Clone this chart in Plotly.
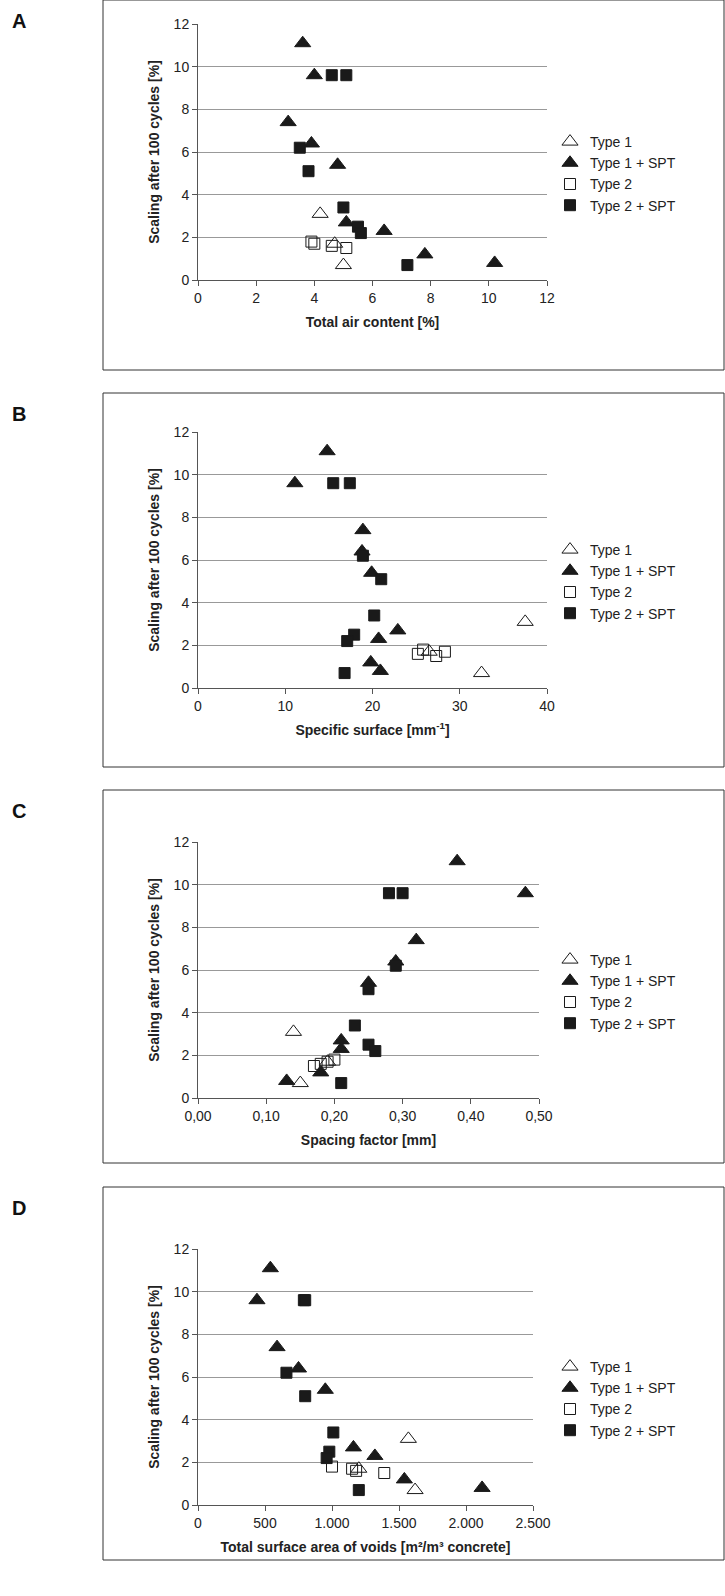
import plotly.graph_objects as go

W, H = 725, 1596

# y values (scaling after 100 cycles, %)
t1_y = [3.1, 1.7, 0.7]
t1s_y = [11.1, 9.6, 7.4, 6.4, 5.4, 2.7, 2.3, 1.2, 0.8]
t2_y = [1.8, 1.7, 1.6, 1.5]
t2s_y = [9.6, 9.6, 6.2, 5.1, 3.4, 2.5, 2.2, 0.7]

# A: total air content [%]
a_t1 = [4.2, 4.7, 5.0]
a_t1s = [3.6, 4.0, 3.1, 3.9, 4.8, 5.1, 6.4, 7.8, 10.2]
a_t2 = [3.9, 4.0, 4.6, 5.1]
a_t2s = [4.6, 5.1, 3.5, 3.8, 5.0, 5.5, 5.6, 7.2]
# B: specific surface [mm-1]
b_t1 = [37.5, 26.5, 32.5]
b_t1s = [14.8, 11.1, 18.9, 18.8, 19.9, 22.9, 20.7, 19.8, 20.9]
b_t2 = [25.8, 28.3, 25.2, 27.3]
b_t2s = [15.5, 17.4, 18.9, 21.0, 20.2, 17.9, 17.1, 16.8]
# C: spacing factor [mm]
c_t1 = [0.14, 0.19, 0.15]
c_t1s = [0.38, 0.48, 0.32, 0.29, 0.25, 0.21, 0.21, 0.18, 0.13]
c_t2 = [0.20, 0.19, 0.18, 0.17]
c_t2s = [0.28, 0.30, 0.29, 0.25, 0.23, 0.25, 0.26, 0.21]
# D: total surface area of voids [m2/m3 concrete]
d_t1 = [1570, 1200, 1620]
d_t1s = [540, 440, 590, 750, 950, 1160, 1320, 1540, 2120]
d_t2 = [1000, 1150, 1180, 1390]
d_t2s = [790, 800, 660, 800, 1010, 980, 960, 1200]

panels = [
    dict(letter="A", top=0, bot=370, ytop=24, ybot=280, xr=[0, 12], xv=list(range(0, 13, 2)),
         xt=[str(v) for v in range(0, 13, 2)], title="Total air content [%]",
         xs=[a_t1, a_t1s, a_t2, a_t2s], right=547),
    dict(letter="B", top=393, bot=767, ytop=432, ybot=688, xr=[0, 40], xv=[0, 10, 20, 30, 40],
         xt=["0", "10", "20", "30", "40"], title="Specific surface [mm<sup>-1</sup>]",
         xs=[b_t1, b_t1s, b_t2, b_t2s], right=547),
    dict(letter="C", top=790, bot=1163, ytop=842, ybot=1098, xr=[0, 0.5], xv=[0, 0.1, 0.2, 0.3, 0.4, 0.5],
         xt=["0,00", "0,10", "0,20", "0,30", "0,40", "0,50"], title="Spacing factor [mm]",
         xs=[c_t1, c_t1s, c_t2, c_t2s], right=539),
    dict(letter="D", top=1187, bot=1560, ytop=1249, ybot=1505, xr=[0, 2500], xv=[0, 500, 1000, 1500, 2000, 2500],
         xt=["0", "500", "1.000", "1.500", "2.000", "2.500"],
         title="Total surface area of voids [m²/m³ concrete]",
         xs=[d_t1, d_t1s, d_t2, d_t2s], right=533),
]

names = ["Type 1", "Type 1 + SPT", "Type 2", "Type 2 + SPT"]
symbols = ["triangle-up-open", "triangle-up", "square-open", "square"]
ys = [t1_y, t1s_y, t2_y, t2s_y]

fig = go.Figure()
font = dict(family="Liberation Sans, Arial", size=14, color="#222")
layout = dict(width=W, height=H, margin=dict(l=0, r=0, t=0, b=0, autoexpand=False),
              plot_bgcolor="white", paper_bgcolor="white", font=font,
              shapes=[], annotations=[])

def py(p):
    return 1 - p / H

for i, p in enumerate(panels):
    n = "" if i == 0 else str(i + 1)
    leg = "legend" + n
    for k in range(4):
        size = 14 if k < 2 else 11
        fig.add_trace(go.Scatter(
            x=p["xs"][k], y=ys[k], mode="markers", name=names[k],
            marker=dict(symbol=symbols[k], size=size, color="#1a1a1a",
                        line=dict(width=1, color="#1a1a1a")),
            xaxis="x" + n, yaxis="y" + n, legend=leg, cliponaxis=False))
    layout["xaxis" + n] = dict(domain=[198 / W, p["right"] / W], anchor="y" + n, range=p["xr"],
                               tickvals=p["xv"], ticktext=p["xt"], showgrid=False, zeroline=False,
                               showline=True, linecolor="#555", ticks="outside", ticklen=5,
                               tickcolor="#555", tickfont=dict(size=14, color="#222"), automargin=False,
                               title=dict(text="<b>" + p["title"] + "</b>", standoff=12,
                                          font=dict(size=14, color="#222")))
    layout["yaxis" + n] = dict(domain=[py(p["ybot"]), py(p["ytop"])], anchor="x" + n, range=[0, 12],
                               tickvals=list(range(0, 13, 2)), showgrid=True, gridcolor="#999",
                               zeroline=False, showline=True, linecolor="#555", ticks="outside",
                               ticklen=5, tickcolor="#555", tickfont=dict(size=14, color="#222"),
                               automargin=False,
                               title=dict(text="<b>Scaling after 100 cycles [%]</b>", standoff=10,
                                          font=dict(size=14, color="#222")))
    layout[leg] = dict(x=550 / W, y=py(p["ytop"] + 102), xanchor="left", yanchor="top",
                       bgcolor="rgba(0,0,0,0)", font=dict(size=14, color="#222"),
                       itemwidth=30, tracegroupgap=10)
    layout["shapes"].append(dict(type="rect", xref="paper", yref="paper", x0=103 / W, x1=724 / W,
                                 y0=py(p["bot"]), y1=py(p["top"]), line=dict(color="#333", width=1)))
    layout["annotations"].append(dict(text="<b>" + p["letter"] + "</b>", xref="paper", yref="paper",
                                      x=10 / W, y=py(p["top"] + 8), xanchor="left", yanchor="top",
                                      showarrow=False, font=dict(size=20, color="#111")))

fig.update_layout(**layout)
css = ("var s=document.createElement('style');"
       "s.textContent='html,body{margin:0;padding:0;overflow:hidden;height:1596px;width:725px}';"
       "document.head.appendChild(s);")
fig.write_html("out.html", config={"displayModeBar": False}, post_script=css)
